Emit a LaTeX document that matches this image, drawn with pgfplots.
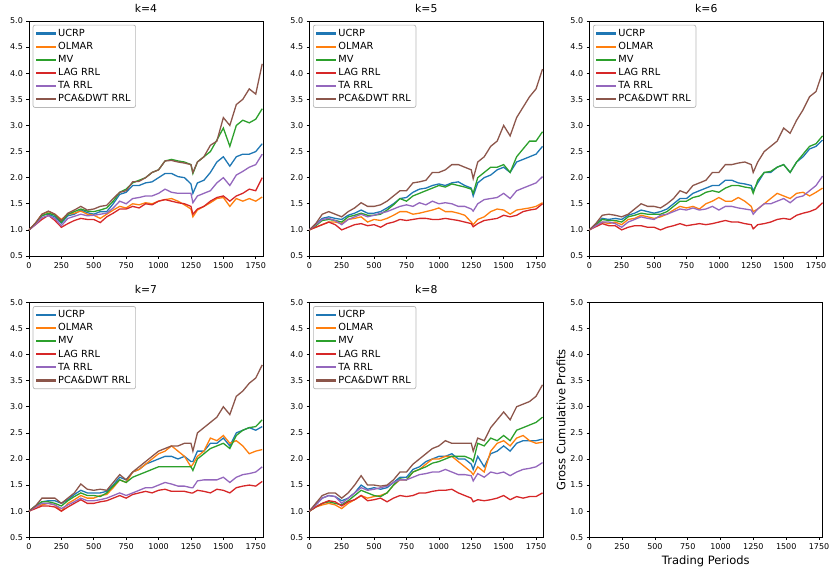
\documentclass[border=0pt]{standalone}
\usepackage{fontspec}
\setmainfont{DejaVu Sans}
\usepackage{pgfplots}
\usepackage{pgfplotstable}
\pgfplotsset{compat=1.18}
\definecolor{c0}{HTML}{1F77B4}
\definecolor{c1}{HTML}{FF7F0E}
\definecolor{c2}{HTML}{2CA02C}
\definecolor{c3}{HTML}{D62728}
\definecolor{c4}{HTML}{9467BD}
\definecolor{c5}{HTML}{8C564B}
\definecolor{legframe}{gray}{0.72}

\pgfplotstableread{
x u o m l t p
0 1.00 1.00 1.00 1.00 1.00 1.00
50 1.12 1.13 1.12 1.10 1.10 1.13
100 1.28 1.30 1.27 1.20 1.24 1.30
150 1.30 1.35 1.32 1.28 1.27 1.36
200 1.25 1.30 1.28 1.18 1.22 1.30
250 1.13 1.20 1.15 1.05 1.08 1.18
300 1.27 1.30 1.30 1.12 1.22 1.32
350 1.30 1.32 1.35 1.18 1.26 1.38
400 1.38 1.36 1.40 1.22 1.30 1.45
450 1.33 1.30 1.36 1.20 1.27 1.38
500 1.30 1.28 1.35 1.20 1.28 1.40
550 1.35 1.22 1.38 1.14 1.30 1.45
600 1.35 1.30 1.42 1.25 1.32 1.47
650 1.50 1.38 1.55 1.32 1.42 1.60
700 1.68 1.45 1.72 1.40 1.55 1.72
750 1.72 1.42 1.78 1.40 1.50 1.75
800 1.85 1.50 1.90 1.45 1.60 1.92
850 1.85 1.48 1.95 1.42 1.62 1.93
900 1.90 1.52 2.00 1.50 1.65 2.00
950 1.92 1.50 2.10 1.48 1.65 2.10
1000 2.00 1.55 2.15 1.55 1.70 2.15
1050 2.08 1.58 2.32 1.58 1.78 2.32
1100 2.08 1.60 2.35 1.55 1.72 2.33
1150 2.02 1.55 2.32 1.52 1.70 2.30
1200 2.00 1.48 2.30 1.50 1.70 2.28
1250 1.88 1.40 2.25 1.45 1.70 2.25
1265 1.70 1.25 2.08 1.30 1.52 2.10
1300 1.90 1.38 2.30 1.40 1.65 2.30
1350 1.95 1.45 2.40 1.45 1.70 2.40
1400 2.10 1.52 2.50 1.55 1.75 2.62
1450 2.30 1.60 2.72 1.62 1.90 2.70
1500 2.40 1.62 2.95 1.65 2.00 3.15
1550 2.22 1.45 2.60 1.55 1.85 3.00
1600 2.40 1.60 3.00 1.65 2.05 3.40
1650 2.45 1.55 3.10 1.70 2.12 3.50
1700 2.45 1.60 3.05 1.78 2.20 3.70
1750 2.50 1.55 3.12 1.75 2.25 3.60
1800 2.65 1.63 3.32 2.00 2.45 4.18
}\tabA

\pgfplotstableread{
x u o m l t p
0 1.00 1.00 1.00 1.00 1.00 1.00
50 1.10 1.05 1.08 1.05 1.10 1.12
100 1.22 1.10 1.18 1.10 1.20 1.30
150 1.25 1.15 1.20 1.15 1.22 1.35
200 1.22 1.15 1.18 1.10 1.18 1.30
250 1.20 1.12 1.15 1.00 1.10 1.25
300 1.28 1.20 1.25 1.05 1.20 1.35
350 1.32 1.22 1.28 1.10 1.25 1.42
400 1.38 1.25 1.32 1.12 1.30 1.52
450 1.32 1.15 1.28 1.08 1.25 1.45
500 1.32 1.20 1.28 1.10 1.28 1.45
550 1.35 1.18 1.30 1.05 1.32 1.48
600 1.42 1.22 1.38 1.12 1.35 1.55
650 1.50 1.28 1.48 1.15 1.40 1.65
700 1.60 1.35 1.60 1.20 1.45 1.75
750 1.62 1.35 1.55 1.18 1.48 1.75
800 1.72 1.30 1.65 1.20 1.45 1.90
850 1.78 1.32 1.70 1.22 1.52 1.92
900 1.80 1.35 1.75 1.22 1.48 1.95
950 1.85 1.38 1.80 1.20 1.55 2.10
1000 1.88 1.42 1.85 1.20 1.50 2.10
1050 1.85 1.35 1.82 1.22 1.52 2.15
1100 1.90 1.35 1.88 1.20 1.50 2.25
1150 1.92 1.32 1.85 1.18 1.45 2.25
1200 1.85 1.28 1.82 1.15 1.45 2.20
1250 1.80 1.15 1.78 1.12 1.40 2.15
1265 1.65 1.10 1.70 1.06 1.36 1.98
1300 1.90 1.20 2.00 1.12 1.50 2.30
1350 2.00 1.25 2.10 1.18 1.58 2.40
1400 2.05 1.35 2.20 1.20 1.60 2.60
1450 2.15 1.40 2.20 1.22 1.62 2.70
1500 2.20 1.38 2.25 1.28 1.70 3.00
1550 2.10 1.30 2.10 1.25 1.60 2.80
1600 2.30 1.38 2.40 1.28 1.75 3.15
1650 2.35 1.40 2.55 1.35 1.80 3.35
1700 2.40 1.42 2.70 1.38 1.85 3.55
1750 2.45 1.45 2.70 1.40 1.90 3.70
1800 2.60 1.52 2.88 1.50 2.02 4.08
}\tabB

\pgfplotstableread{
x u o m l t p
0 1.00 1.00 1.00 1.00 1.00 1.00
50 1.10 1.08 1.10 1.06 1.08 1.12
100 1.22 1.15 1.20 1.12 1.15 1.28
150 1.20 1.12 1.18 1.08 1.15 1.30
200 1.22 1.15 1.18 1.08 1.12 1.28
250 1.20 1.10 1.15 1.00 1.05 1.25
300 1.28 1.20 1.25 1.05 1.15 1.30
350 1.32 1.22 1.28 1.08 1.20 1.40
400 1.38 1.28 1.32 1.08 1.25 1.50
450 1.35 1.25 1.30 1.05 1.22 1.45
500 1.32 1.22 1.30 1.05 1.20 1.45
550 1.35 1.25 1.30 1.00 1.28 1.42
600 1.40 1.30 1.35 1.05 1.30 1.50
650 1.50 1.38 1.45 1.08 1.35 1.60
700 1.60 1.45 1.55 1.12 1.40 1.75
750 1.60 1.42 1.55 1.08 1.38 1.70
800 1.70 1.45 1.62 1.10 1.42 1.85
850 1.75 1.40 1.65 1.12 1.38 1.90
900 1.80 1.50 1.72 1.10 1.40 1.95
950 1.85 1.55 1.75 1.12 1.45 2.10
1000 1.85 1.62 1.72 1.15 1.38 2.10
1050 1.95 1.55 1.80 1.18 1.45 2.25
1100 1.95 1.55 1.85 1.15 1.45 2.25
1150 1.90 1.62 1.85 1.15 1.42 2.28
1200 1.88 1.55 1.82 1.12 1.40 2.30
1250 1.85 1.45 1.80 1.10 1.38 2.25
1265 1.75 1.35 1.70 1.02 1.30 2.10
1300 1.90 1.40 1.95 1.10 1.40 2.30
1350 2.10 1.50 2.10 1.12 1.50 2.50
1400 2.10 1.60 2.12 1.15 1.50 2.60
1450 2.20 1.70 2.20 1.20 1.55 2.70
1500 2.25 1.65 2.25 1.22 1.60 2.95
1550 2.10 1.60 2.10 1.20 1.52 2.85
1600 2.30 1.70 2.30 1.28 1.62 3.10
1650 2.40 1.72 2.45 1.32 1.65 3.30
1700 2.55 1.65 2.60 1.35 1.75 3.55
1750 2.60 1.72 2.65 1.40 1.85 3.65
1800 2.72 1.80 2.80 1.52 2.03 4.02
}\tabC

\pgfplotstableread{
x u o m l t p
0 1.00 1.00 1.00 1.00 1.00 1.00
50 1.10 1.08 1.10 1.05 1.08 1.10
100 1.18 1.12 1.18 1.10 1.15 1.25
150 1.20 1.15 1.18 1.10 1.15 1.25
200 1.20 1.12 1.15 1.08 1.12 1.25
250 1.15 1.00 1.10 1.00 1.05 1.15
300 1.22 1.15 1.20 1.08 1.12 1.25
350 1.32 1.22 1.28 1.15 1.18 1.35
400 1.40 1.30 1.35 1.22 1.25 1.52
450 1.35 1.25 1.30 1.15 1.20 1.42
500 1.35 1.25 1.30 1.15 1.20 1.40
550 1.35 1.30 1.28 1.18 1.22 1.42
600 1.38 1.32 1.35 1.20 1.25 1.40
650 1.50 1.45 1.48 1.25 1.30 1.55
700 1.65 1.60 1.60 1.30 1.35 1.70
750 1.60 1.55 1.55 1.25 1.30 1.60
800 1.75 1.75 1.65 1.32 1.35 1.75
850 1.80 1.80 1.70 1.35 1.40 1.85
900 1.90 1.90 1.75 1.38 1.45 1.95
950 1.95 2.00 1.80 1.35 1.45 2.05
1000 2.00 2.10 1.85 1.40 1.50 2.15
1050 2.05 2.15 1.85 1.42 1.55 2.20
1100 2.05 2.25 1.85 1.38 1.52 2.25
1150 2.00 2.15 1.85 1.38 1.48 2.25
1200 2.05 2.05 1.85 1.38 1.48 2.30
1250 1.95 1.85 1.85 1.35 1.45 2.30
1265 1.95 1.90 1.78 1.35 1.45 2.15
1300 2.15 2.05 2.00 1.40 1.58 2.50
1350 2.15 2.15 2.10 1.38 1.60 2.60
1400 2.30 2.40 2.20 1.35 1.60 2.70
1450 2.30 2.35 2.25 1.42 1.60 2.80
1500 2.40 2.45 2.30 1.40 1.65 3.00
1550 2.25 2.30 2.20 1.35 1.55 2.85
1600 2.50 2.35 2.45 1.45 1.65 3.20
1650 2.55 2.25 2.55 1.48 1.70 3.30
1700 2.60 2.10 2.60 1.50 1.72 3.45
1750 2.55 2.15 2.62 1.48 1.75 3.55
1800 2.62 2.18 2.75 1.57 1.85 3.80
}\tabD

\pgfplotstableread{
x u o m l t p
0 1.00 1.00 1.00 1.00 1.00 1.00
50 1.12 1.08 1.08 1.08 1.12 1.15
100 1.25 1.12 1.15 1.15 1.25 1.30
150 1.30 1.15 1.18 1.20 1.30 1.35
200 1.28 1.12 1.15 1.18 1.28 1.35
250 1.20 1.05 1.12 1.10 1.15 1.25
300 1.25 1.15 1.20 1.18 1.25 1.35
350 1.35 1.22 1.30 1.22 1.35 1.50
400 1.50 1.30 1.40 1.30 1.45 1.68
450 1.42 1.25 1.35 1.20 1.40 1.50
500 1.45 1.28 1.30 1.22 1.42 1.50
550 1.42 1.30 1.28 1.25 1.45 1.48
600 1.45 1.35 1.35 1.18 1.48 1.50
650 1.55 1.50 1.50 1.25 1.55 1.60
700 1.65 1.60 1.62 1.30 1.60 1.75
750 1.65 1.60 1.60 1.28 1.60 1.75
800 1.80 1.75 1.75 1.30 1.65 1.90
850 1.85 1.80 1.80 1.35 1.70 2.00
900 1.95 1.90 1.85 1.35 1.72 2.10
950 2.00 2.00 1.92 1.38 1.75 2.20
1000 2.05 2.00 1.95 1.40 1.75 2.25
1050 2.05 2.05 2.00 1.40 1.80 2.35
1100 2.10 2.05 2.05 1.42 1.75 2.30
1150 2.00 1.95 2.05 1.35 1.70 2.30
1200 2.00 1.85 2.05 1.30 1.70 2.30
1250 1.90 1.75 2.00 1.25 1.68 2.30
1265 1.80 1.70 1.95 1.18 1.58 2.15
1300 2.05 1.85 2.30 1.22 1.72 2.40
1350 1.85 1.75 2.25 1.20 1.65 2.35
1400 2.10 2.15 2.40 1.22 1.75 2.60
1450 2.15 2.30 2.35 1.25 1.72 2.75
1500 2.25 2.35 2.45 1.30 1.75 2.90
1550 2.15 2.25 2.35 1.22 1.68 2.75
1600 2.30 2.40 2.55 1.28 1.75 3.00
1650 2.35 2.45 2.60 1.25 1.80 3.05
1700 2.35 2.35 2.65 1.28 1.82 3.10
1750 2.35 2.30 2.70 1.28 1.85 3.20
1800 2.38 2.32 2.80 1.35 1.93 3.42
}\tabE

\pgfplotsset{
  base/.style={
    scale only axis, width=234pt, height=235pt,
    xmin=0, xmax=1806, ymin=0.5, ymax=5,
    xtick={0,250,500,750,1000,1250,1500,1750},
    ytick={0.5,1.0,1.5,2.0,2.5,3.0,3.5,4.0,4.5,5.0},
    yticklabel style={/pgf/number format/.cd,fixed,fixed zerofill,precision=1},
    /pgf/number format/1000 sep={},
    /pgf/number format/assume math mode=true,
    tick label style={font=\fontsize{8}{9}\selectfont, text=black},
    tick align=outside, tick pos=left, major tick length=2.6pt,
    every tick/.style={black, line width=0.6pt},
    axis line style={line width=0.6pt},
    title style={font=\fontsize{10.8}{12}\selectfont, yshift=-1pt},
    legend style={at={(0.016,0.984)}, anchor=north west, draw=legframe, line width=0.7pt,
      rounded corners=2pt, fill=white,
      font=\fontsize{9.8}{11}\selectfont, row sep=0.4pt, inner xsep=3pt, inner ysep=2pt},
    legend cell align=left,
    legend image code/.code={\fill[##1, draw=none, rounded corners=0pt] (0pt,-1.1pt) rectangle (20pt,1.1pt);},
    every axis plot/.append style={line width=1.3pt},
  }
}

\newcommand{\panel}[4]{%
\begin{axis}[base, at={(#1,#2)}, anchor=south west, title={#3}]
\addplot[c0] table[x=x,y=u]{#4}; \addlegendentry{UCRP}
\addplot[c1] table[x=x,y=o]{#4}; \addlegendentry{OLMAR}
\addplot[c2] table[x=x,y=m]{#4}; \addlegendentry{MV}
\addplot[c3] table[x=x,y=l]{#4}; \addlegendentry{LAG RRL}
\addplot[c4] table[x=x,y=t]{#4}; \addlegendentry{TA RRL}
\addplot[c5] table[x=x,y=p]{#4}; \addlegendentry{PCA\&DWT RRL}
\end{axis}}

\begin{document}
\begin{tikzpicture}
\useasboundingbox (0,0) rectangle (831pt,576pt);
\panel{29pt}{320pt}{k=4}{\tabA}
\panel{309.3pt}{320pt}{k=5}{\tabB}
\panel{589.3pt}{320pt}{k=6}{\tabC}
\panel{29pt}{38.7pt}{k=7}{\tabD}
\panel{309.3pt}{38.7pt}{k=8}{\tabE}
\begin{axis}[base, at={(589.3pt,38.7pt)}, anchor=south west, width=233pt, xmax=1775,
  xlabel={Trading Periods}, ylabel={Gross Cumulative Profits},
  label style={font=\fontsize{11.5}{13}\selectfont},
  xlabel style={yshift=1pt}, ylabel style={yshift=-2pt}]
\end{axis}
\end{tikzpicture}
\end{document}
